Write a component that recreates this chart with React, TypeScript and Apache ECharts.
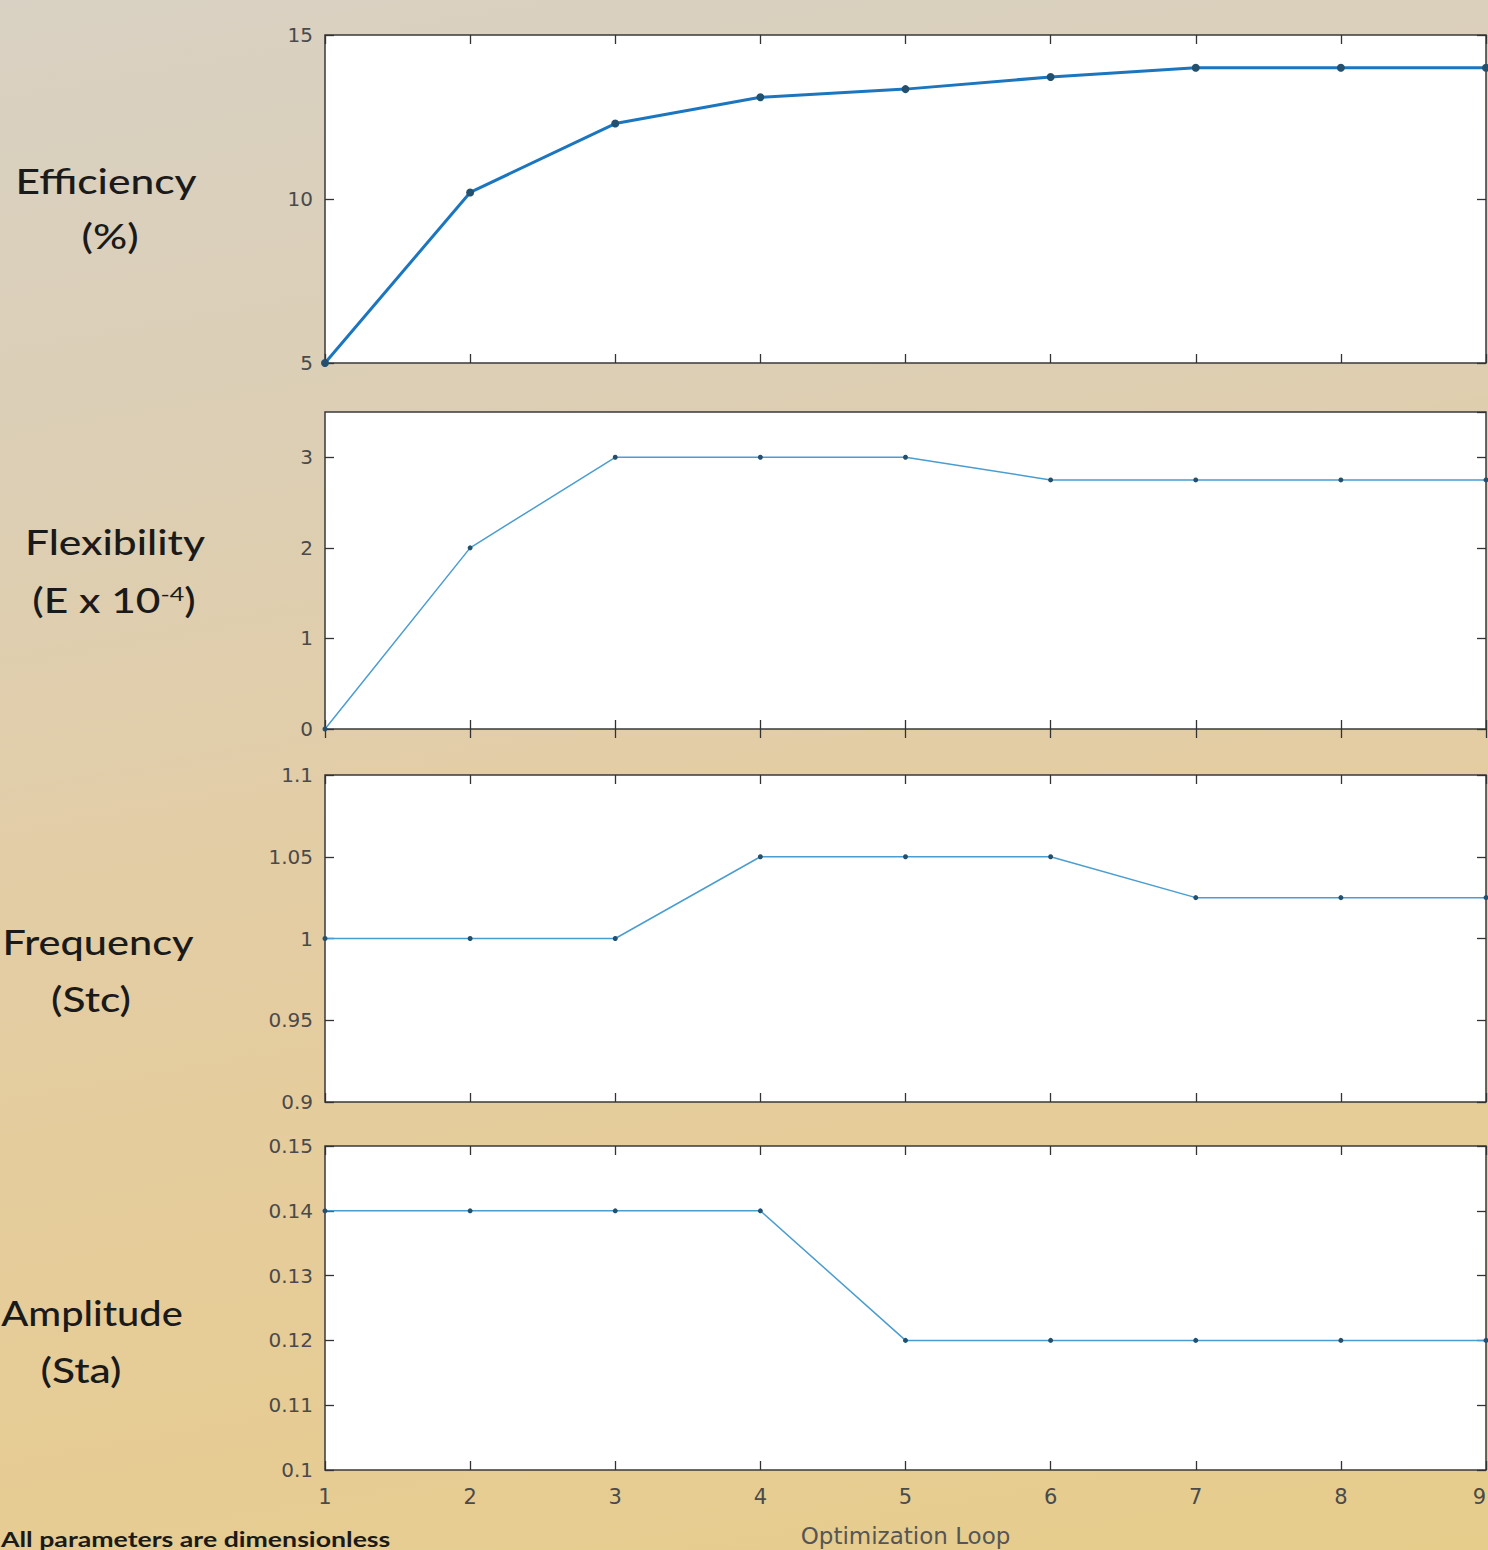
import React, { useEffect, useRef } from "react";
import * as echarts from "echarts";

// ---- data ----
const loops = [1, 2, 3, 4, 5, 6, 7, 8, 9];
const efficiency = [5, 10.2, 12.3, 13.1, 13.35, 13.72, 14.0, 14.0, 14.0];
const flexibility = [0, 2, 3, 3, 3, 2.75, 2.75, 2.75, 2.75];
const frequency = [1, 1, 1, 1.05, 1.05, 1.05, 1.025, 1.025, 1.025];
const amplitude = [0.14, 0.14, 0.14, 0.14, 0.12, 0.12, 0.12, 0.12, 0.12];

const yMins = [5, 0, 0.9, 0.1];
const yMaxs = [15, 3.5, 1.1, 0.15];
const yIntervals = [5, 1, 0.05, 0.01];
const xMin = 1;
const xMax = 9;
const xInterval = 1;

const xAxisTitle = "Optimization Loop";
const footNote = "All parameters are dimensionless";

// ---- layout ----
const W = 1488;
const H = 1550;
const gridLeft = 325;
const gridRight = 2;
const gridTops = [35, 412, 775, 1146];
const gridHeights = [328, 317, 327, 324];

const seriesValues = [efficiency, flexibility, frequency, amplitude];
const lineColors = ["#1b76bf", "#4a9dd0", "#4a9dd0", "#4a9dd0"];
const lineWidths = [3, 1.5, 1.5, 1.5];
const symbolSizes = [8, 5, 5, 5];

const tickStyle = { show: true, inside: true, length: 9, lineStyle: { color: "#333", width: 1.3 } };
const labelColor = "#4a4a4a";
const labelFont = "DejaVu Sans";

export default function App() {
  const ref = useRef<HTMLDivElement>(null);

  useEffect(() => {
    if (!ref.current) return;
    const chart = echarts.init(ref.current, null, { renderer: "svg" });

    const grids = gridTops.map((top, i) => ({
      left: gridLeft,
      right: gridRight,
      top,
      height: gridHeights[i],
      show: true,
      backgroundColor: "#ffffff",
      borderColor: "#3a3a3a",
      borderWidth: 1.5,
      containLabel: false,
      outerBoundsMode: "none",
    }));

    const xAxes: any[] = [];
    const yAxes: any[] = [];
    const series: any[] = [];

    gridTops.forEach((_, i) => {
      const isLast = i === gridTops.length - 1;
      xAxes.push({
        type: "value",
        gridIndex: i,
        position: "bottom",
        min: xMin,
        max: xMax,
        interval: xInterval,
        axisLine: { show: false },
        axisTick: tickStyle,
        splitLine: { show: false },
        axisLabel: {
          show: isLast,
          color: labelColor,
          fontFamily: labelFont,
          fontSize: 21,
          margin: 16,
          alignMaxLabel: "right",
        },
        name: isLast ? xAxisTitle : "",
        nameLocation: "middle",
        nameGap: 54,
        nameTextStyle: { color: "#555", fontFamily: labelFont, fontSize: 23 },
      });
      xAxes.push({
        type: "value",
        gridIndex: i,
        position: "top",
        min: xMin,
        max: xMax,
        interval: xInterval,
        axisLine: { show: false },
        axisTick: tickStyle,
        splitLine: { show: false },
        axisLabel: { show: false },
      });
      yAxes.push({
        type: "value",
        gridIndex: i,
        position: "left",
        min: yMins[i],
        max: yMaxs[i],
        interval: yIntervals[i],
        axisLine: { show: false },
        axisTick: tickStyle,
        splitLine: { show: false },
        axisLabel: {
          show: true,
          color: labelColor,
          fontFamily: labelFont,
          fontSize: 20,
          margin: 12,
          showMaxLabel: i !== 1,
        },
      });
      yAxes.push({
        type: "value",
        gridIndex: i,
        position: "right",
        min: yMins[i],
        max: yMaxs[i],
        interval: yIntervals[i],
        axisLine: { show: false },
        axisTick: tickStyle,
        splitLine: { show: false },
        axisLabel: { show: false },
      });
      series.push({
        type: "line",
        xAxisIndex: i * 2,
        yAxisIndex: i * 2,
        data: loops.map((x, k) => [x, seriesValues[i][k]]),
        lineStyle: { color: lineColors[i], width: lineWidths[i] },
        itemStyle: { color: "#24506e" },
        symbol: "circle",
        symbolSize: symbolSizes[i],
        showSymbol: true,
        clip: false,
      });
    });

    const titleFont = "Lato";
    const mkText = (text: string, x: number, y: number, sx = 1.25, extra: any = {}) => ({
      type: "text",
      x,
      y,
      scaleX: sx,
      style: {
        text,
        fill: "#1a1a1a",
        fontFamily: titleFont,
        fontSize: 34,
        fontWeight: 500,
        textAlign: "center",
        textVerticalAlign: "middle",
        ...extra,
      },
    });

    const graphics: any[] = [
      mkText("Efficiency", 106, 181),
      mkText("(%)", 110, 236),
      mkText("Flexibility", 115, 542),
      mkText("(E x 10{sup|-4})", 114, 600, 1.25, {
        rich: { sup: { fontSize: 20, fontFamily: titleFont, verticalAlign: "top", padding: [0, 0, 8, 0], fill: "#1a1a1a" } },
      }),
      mkText("Frequency", 98, 942, 1.22),
      mkText("(Stc)", 91, 999),
      mkText("Amplitude", 92, 1313, 1.17),
      mkText("(Sta)", 81, 1370),
      {
        type: "text",
        x: 1,
        y: 1549,
        scaleX: 1.27,
        style: {
          text: footNote,
          fill: "#1a1a1a",
          fontFamily: titleFont,
          fontSize: 21,
          fontWeight: 700,
          textAlign: "left",
          textVerticalAlign: "bottom",
        },
      },
    ];

    chart.setOption({
      animation: false,
      backgroundColor: "transparent",
      textStyle: { fontFamily: labelFont },
      grid: grids,
      xAxis: xAxes,
      yAxis: yAxes,
      series,
      graphic: graphics,
    });

    return () => chart.dispose();
  }, []);

  return (
    <div
      ref={ref}
      style={{
        position: "absolute",
        left: 0,
        top: 0,
        width: W,
        height: H,
        background:
          "linear-gradient(170deg, #d9d1c3 0%, #dccfb6 25%, #e3cda5 50%, #e6cc97 75%, #e6cd8c 100%)",
      }}
    />
  );
}
